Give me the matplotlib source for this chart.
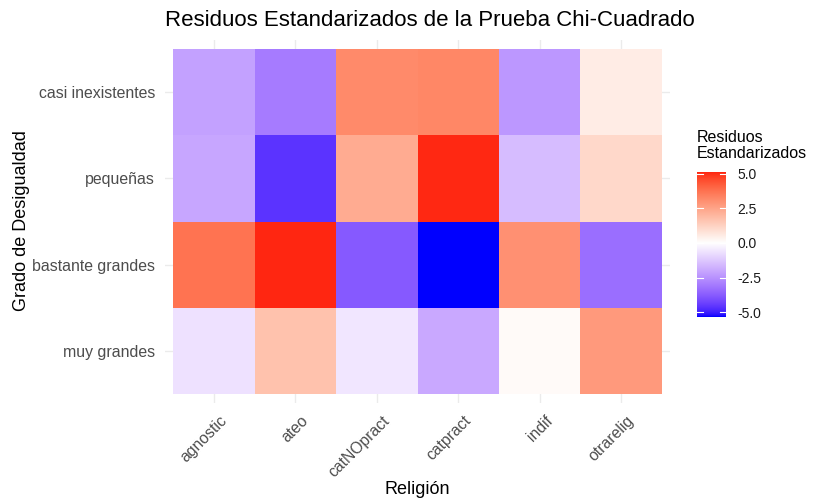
import numpy as np
import matplotlib
matplotlib.use("Agg")
import matplotlib.pyplot as plt
from matplotlib.colors import ListedColormap, Normalize
from matplotlib.transforms import ScaledTranslation

plt.rcParams['font.family'] = ['Liberation Sans', 'DejaVu Sans']

# Datos: residuos estandarizados (filas = grado de desigualdad, columnas = religión)
religiones = ["agnostic", "ateo", "catNOpract", "catpract", "indif", "otrarelig"]
grados = ["muy grandes", "bastante grandes", "pequeñas", "casi inexistentes"]

res_muy_grandes = [-0.68, 1.71, -0.57, -2.00, 0.13, 2.78]
res_bastante_grandes = [3.75, 5.12, -3.83, -5.35, 3.01, -3.36]
res_pequenas = [-2.04, -4.65, 2.33, 5.08, -1.53, 1.10]
res_casi_inexistentes = [-2.17, -3.04, 3.18, 3.28, -2.39, 0.54]

ticks_leyenda = [-5.0, -2.5, 0.0, 2.5, 5.0]


# Escala azul-blanco-rojo interpolada en espacio Lab (como scale_fill_gradient2)
def a_lab(rgb):
    rgb = np.asarray(rgb, dtype=float)
    lin = np.where(rgb <= 0.04045, rgb / 12.92, ((rgb + 0.055) / 1.055) ** 2.4)
    m = np.array([[0.4124, 0.3576, 0.1805],
                  [0.2126, 0.7152, 0.0722],
                  [0.0193, 0.1192, 0.9505]])
    xyz = m @ lin / np.array([0.95047, 1.0, 1.08883])
    f = np.where(xyz > 0.008856, np.cbrt(xyz), 7.787 * xyz + 16 / 116)
    return np.array([116 * f[1] - 16, 500 * (f[0] - f[1]), 200 * (f[1] - f[2])])


def de_lab(lab):
    L, a, b = lab
    fy = (L + 16) / 116
    fx = fy + a / 500
    fz = fy - b / 200
    f = np.array([fx, fy, fz])
    xyz = np.where(f ** 3 > 0.008856, f ** 3, (f - 16 / 116) / 7.787)
    xyz = xyz * np.array([0.95047, 1.0, 1.08883])
    minv = np.array([[3.2406, -1.5372, -0.4986],
                     [-0.9689, 1.8758, 0.0415],
                     [0.0557, -0.2040, 1.0570]])
    lin = np.clip(minv @ xyz, 0, 1)
    rgb = np.where(lin <= 0.0031308, 12.92 * lin, 1.055 * lin ** (1 / 2.4) - 0.055)
    return np.clip(rgb, 0, 1)


azul, blanco, rojo = a_lab([0, 0, 1]), a_lab([1, 1, 1]), a_lab([1, 0, 0])
colores = []
for t in np.linspace(0, 1, 512):
    if t < 0.5:
        u = t / 0.5
        colores.append(de_lab(azul + (blanco - azul) * u))
    else:
        u = (t - 0.5) / 0.5
        colores.append(de_lab(blanco + (rojo - blanco) * u))
cmap = ListedColormap(colores)

z = np.array([res_muy_grandes, res_bastante_grandes, res_pequenas, res_casi_inexistentes])
lim = np.abs(z).max()
norm = Normalize(vmin=-lim, vmax=lim)

fig = plt.figure(figsize=(8.13, 5.04), dpi=100)
ax = fig.add_axes([165 / 813, 1 - 403 / 504, 505 / 813, 363 / 504])

x_bordes = np.arange(len(religiones) + 1) - 0.5
y_bordes = np.arange(len(grados) + 1) - 0.5
ax.pcolormesh(x_bordes, y_bordes, z, cmap=cmap, norm=norm, zorder=2)

ax.set_xlim(-0.6, len(religiones) - 0.4)
ax.set_ylim(-0.6, len(grados) - 0.4)
ax.set_xticks(range(len(religiones)))
ax.set_yticks(range(len(grados)))
ax.set_xticklabels(religiones, rotation=45, ha='right', va='top',
                   rotation_mode='anchor', fontsize=11.3, color='#4D4D4D')
ax.set_yticklabels(grados, fontsize=11.4, color='#4D4D4D')
ax.tick_params(length=0, pad=7)
desplaza = ScaledTranslation(5 / 100, 0, fig.dpi_scale_trans)
for lab in ax.get_xticklabels():
    lab.set_transform(lab.get_transform() + desplaza)
ax.grid(True, color='#EBEBEB', linewidth=1.0, zorder=0)
ax.set_axisbelow(True)
for s in ax.spines.values():
    s.set_visible(False)

fig.text(417 / 813, 1 - 490 / 504, 'Religión', fontsize=13, ha='center', va='center')
fig.text(22 / 813, 1 - 221 / 504, 'Grado de Desigualdad', fontsize=13,
         rotation=90, ha='center', va='center')
ax.set_title('Residuos Estandarizados de la Prueba Chi-Cuadrado',
             fontsize=16, loc='left', pad=10)

# Leyenda (barra de color)
zmin, zmax = z.min(), z.max()
cax = fig.add_axes([697 / 813, 1 - 317 / 504, 29 / 813, 145 / 504])
grad = np.linspace(zmin, zmax, 300).reshape(-1, 1)
cax.imshow(grad, cmap=cmap, norm=norm, aspect='auto', origin='lower',
           extent=[0, 1, zmin, zmax])
for v in ticks_leyenda:
    cax.plot([0, 0.2], [v, v], color='white', linewidth=0.8)
    cax.plot([0.8, 1], [v, v], color='white', linewidth=0.8)
cax.set_xlim(0, 1)
cax.set_ylim(zmin, zmax)
cax.set_xticks([])
cax.yaxis.tick_right()
cax.set_yticks(ticks_leyenda)
cax.set_yticklabels([f'{v:.1f}' for v in ticks_leyenda], fontsize=10, color='#1A1A1A')
cax.tick_params(length=0, pad=8)
for s in cax.spines.values():
    s.set_visible(False)
fig.text(697 / 813, 1 - 130 / 504, 'Residuos\nEstandarizados', fontsize=11.5,
         ha='left', va='top', linespacing=1.1)

fig.savefig('out.png', dpi=100)
